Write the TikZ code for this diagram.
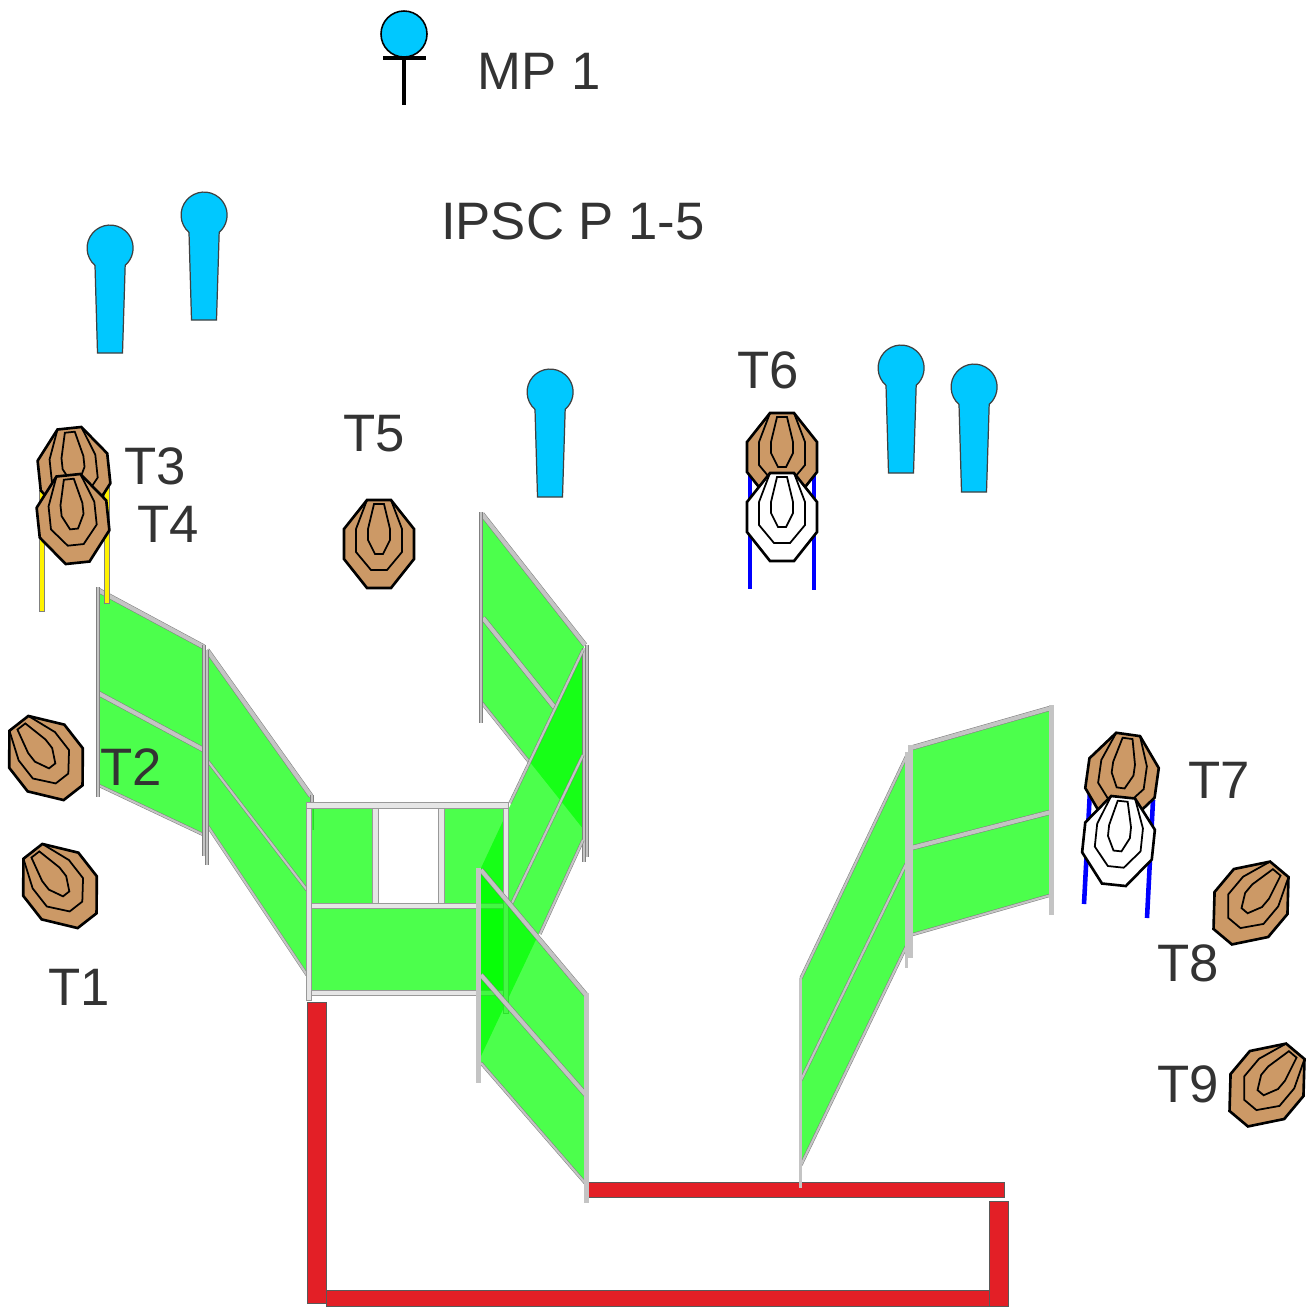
\documentclass[tikz,border=0pt]{standalone}
\usepackage{fontspec}
\setmainfont{Liberation Sans}
\definecolor{tbrown}{HTML}{CC9966}
\definecolor{sky}{HTML}{00C8FF}
\definecolor{wallred}{HTML}{E31F26}
\definecolor{railgrey}{HTML}{808080}
\definecolor{railfill}{HTML}{C4C4C4}
\definecolor{framegrey}{HTML}{E6E6E6}
\definecolor{labelgrey}{HTML}{333333}
\tikzset{
  lbl/.style={text=labelgrey, font=\fontsize{30}{30}\selectfont, inner sep=0pt},
  panel/.style={fill=green, fill opacity=0.7, draw=none},
  rail/.style={draw=railgrey, line width=0.3pt, double=railfill, double distance=2.3pt},
  thinrail/.style={draw=railgrey, line width=0.3pt, double=railfill, double distance=1.2pt},
  post/.style={fill=framegrey, draw=gray!80, line width=0.3pt},
  wall/.style={fill=wallred, draw=black!65, line width=0.4pt},
  stake/.style={draw=blue, line width=2.6pt},
  ystake/.style={fill=yellow, draw=black!50, line width=0.2pt},
  pics/target/.style={code={
    \draw[line width=1.5pt, fill=#1] (-12,-44) -- (12,-44) -- (35,-15) -- (35,15) -- (12,44)
      -- (-12,44) -- (-35,15) -- (-35,-15) -- cycle;
    \draw[line width=1pt] (-12,-44) -- (-23,-15) -- (-23,8) -- (-8,26) -- (8,26) -- (23,8)
      -- (23,-15) -- (12,-44);
    \draw[line width=1pt] (-5,-40) -- (5,-40) -- (11,-15) -- (11,-4) -- (4,10) -- (-4,10)
      -- (-11,-4) -- (-11,-15) -- cycle;
  }},
  pics/shooter/.style={code={
    \draw[draw=black!75, line width=0.7pt, fill=sky] (-15,17.4) arc[start angle=131, end angle=409, radius=23]
      -- (12.5,105) -- (-12.5,105) -- cycle;
  }}
}
\begin{document}
\begin{tikzpicture}[x=0.02cm, y=-0.02cm]
  \useasboundingbox (0,0) rectangle (1314,1306);

  % red walls
  \draw[wall] (326,1290) rectangle (990,1306);
  \draw[wall] (307,1002) rectangle (326,1303);
  \draw[wall] (989,1201) rectangle (1008,1306);
  \draw[wall] (588,1182) rectangle (1004,1197);

  % left wings
  \fill[panel] (98,590) -- (204,648) -- (204,835) -- (98,785) -- cycle;
  \fill[panel] (207,650) -- (310,795) -- (310,978) -- (207,825) -- cycle;
  \draw[rail] (98,590) -- (204,647); \draw[rail] (98,693) -- (204,750);
  \draw[thinrail] (98,785) -- (204,835);
  \draw[rail] (207,650) -- (311,796); \draw[thinrail] (207,760) -- (307,890);
  \draw[thinrail] (207,825) -- (307,975);
  \draw[thinrail] (98,587) -- (98,797); \draw[thinrail] (204,645) -- (204,856);
  \draw[thinrail] (207,650) -- (207,865); \draw[thinrail] (312,795) -- (312,830);

  % back wing, crossing wing
  \fill[panel] (483,515) -- (584,645) -- (584,830) -- (483,703) -- cycle;
  \fill[panel] (583,650) -- (583,840) -- (481,1056) -- (481,868) -- cycle;
  \draw[rail] (482,514) -- (585,645); \draw[thinrail] (482,703) -- (530,763);
  \draw[rail] (483,618) -- (555,708);
  \draw[thinrail] (481,512) -- (481,723); \draw[thinrail] (587,645) -- (587,857);
  \draw[thinrail] (584,648) -- (584,862);
  \draw[thinrail] (583,650) -- (510,803); \draw[thinrail] (583,755) -- (512,903);
  \draw[thinrail] (583,840) -- (540,934);

  % door frame
  \fill[panel] (311,808) rectangle (372,903); \fill[panel] (444,808) rectangle (503,903);
  \fill[panel] (311,908) rectangle (503,990);
  \draw[post] (306,802) rectangle (311,1000); \draw[post] (503,802) rectangle (508,1013);
  \draw[post] (372,808) rectangle (378,903); \draw[post] (438,808) rectangle (444,903);
  \draw[post] (306,802) rectangle (508,808); \draw[post] (311,903) rectangle (503,908);
  \draw[post] (311,990) rectangle (503,995);

  % front wing
  \fill[panel] (481,870) -- (586,995) -- (586,1183) -- (481,1063) -- cycle;
  \draw[rail] (481,870) -- (586,995); \draw[rail] (481,975) -- (586,1095);
  \draw[thinrail] (481,1063) -- (586,1184);
  \draw[rail] (478.5,868) -- (478.5,1083); \draw[rail] (586.5,993) -- (586.5,1203);

  % right wings
  \fill[panel] (801,978) -- (907,755) -- (907,945) -- (801,1165) -- cycle;
  \fill[panel] (911,748) -- (1051,708) -- (1051,895) -- (911,935) -- cycle;
  \draw[thinrail] (801,978) -- (907,755); \draw[thinrail] (801,1080) -- (907,862);
  \draw[thinrail] (801,1165) -- (907,945);
  \draw[rail] (911,748) -- (1051,708); \draw[rail] (911,848) -- (1051,812);
  \draw[thinrail] (911,935) -- (1051,895);
  \draw[thinrail] (800.5,978) -- (800.5,1188); \draw[thinrail] (906.5,752) -- (906.5,968);
  \draw[rail] (910.5,745) -- (910.5,958); \draw[rail] (1051.5,705) -- (1051.5,915);

  % stakes
  \draw[ystake] (39,490) rectangle (44,611); \draw[ystake] (104,485) rectangle (109,603);
  \draw[stake] (750,470) -- (750,589); \draw[stake] (814,470) -- (814,590);
  \draw[stake] (1090,790) -- (1084,904); \draw[stake] (1153,800) -- (1147,918);

  % targets
  \pic[rotate=6] at (74,472) {target=tbrown}; \pic[rotate=6] at (73,519) {target=tbrown};
  \pic at (379,544) {target=tbrown};
  \pic at (782,457) {target=tbrown}; \pic at (782,517) {target=white};
  \pic[rotate=-8] at (1122,778) {target=tbrown}; \pic[rotate=-6] at (1118.5,841) {target=white};
  \pic[rotate=38] at (46,758) {target=tbrown}; \pic[rotate=38] at (60,886) {target=tbrown};
  \pic[rotate=-40] at (1251,903) {target=tbrown}; \pic[rotate=-40] at (1267,1085) {target=tbrown};

  % shooters
  \pic at (110,248) {shooter}; \pic at (204,215) {shooter}; \pic at (550,392) {shooter};
  \pic at (901,368) {shooter}; \pic at (974,387) {shooter};

  % start position marker
  \draw[line width=0.9pt, fill=sky] (404,34) circle (23);
  \draw[line width=1.8pt] (383,58) -- (426,58); \draw[line width=1.8pt] (404,57) -- (404,105);

  % labels
  \node[lbl] (MP) at (539,71) {MP 1};
  \node[lbl] (title) at (573,221) {IPSC P 1-5};
  \node[lbl] (T1) at (79,987) {T1}; \node[lbl] (T2) at (131,767) {T2};
  \node[lbl] (T3) at (155,466) {T3}; \node[lbl] (T4) at (168,524) {T4};
  \node[lbl] (T5) at (374,434) {T5}; \node[lbl] (T6) at (768,370) {T6};
  \node[lbl] (T7) at (1219,780) {T7}; \node[lbl] (T8) at (1188,963) {T8};
  \node[lbl] (T9) at (1188,1084) {T9};
\end{tikzpicture}
\end{document}
